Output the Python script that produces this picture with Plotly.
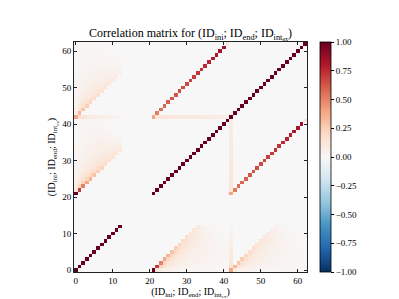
import plotly.graph_objects as go

# ---- axis categories / ticks -------------------------------------------
ids = list(range(63))                 # (ID_ini 0-20 ; ID_end 21-41 ; ID_intex 42-62)
tick_vals = [0, 10, 20, 30, 40, 50, 60]
cbar_vals = [1.0, 0.75, 0.5, 0.25, 0.0, -0.25, -0.5, -0.75, -1.0]
cbar_text = ["1.00", "0.75", "0.50", "0.25", "0.00", "\u22120.25", "\u22120.50", "\u22120.75", "\u22121.00"]

# ---- data ---------------------------------------------------------------
ini_active = 13   # ID_ini bins 0..12 carry variance; 13..20 are empty

# corr(ID_ini = i, ID_end = m); rows m = 0..20, columns i = 0..12
ini_end_rows = [
    [1.00],
    [0.12, 0.70],
    [0.08, 0.22, 0.50],
    [0.06, 0.13, 0.22, 0.40],
    [0.05, 0.09, 0.15, 0.22, 0.34],
    [0.04, 0.07, 0.11, 0.15, 0.21, 0.29],
    [0.03, 0.06, 0.08, 0.11, 0.15, 0.19, 0.25],
    [0.03, 0.05, 0.07, 0.09, 0.11, 0.14, 0.17, 0.22],
    [0.02, 0.04, 0.06, 0.07, 0.09, 0.11, 0.13, 0.15, 0.19],
    [0.02, 0.04, 0.05, 0.06, 0.07, 0.09, 0.10, 0.12, 0.14, 0.16],
    [0.02, 0.03, 0.04, 0.05, 0.06, 0.07, 0.08, 0.10, 0.11, 0.12, 0.14],
    [0.02, 0.03, 0.04, 0.05, 0.05, 0.06, 0.07, 0.08, 0.09, 0.10, 0.11, 0.12],
    [0.02, 0.03, 0.03, 0.04, 0.05, 0.05, 0.06, 0.07, 0.07, 0.08, 0.08, 0.09, 0.10],
    [0.02, 0.02, 0.03, 0.04, 0.04, 0.05, 0.05, 0.06, 0.06, 0.06, 0.06, 0.06, 0.06],
    [0.01, 0.02, 0.03, 0.03, 0.04, 0.04, 0.05, 0.05, 0.05, 0.05, 0.04, 0.04, 0.03],
    [0.01, 0.02, 0.02, 0.03, 0.03, 0.04, 0.04, 0.04, 0.04, 0.04, 0.03, 0.02, 0.02],
    [0.01, 0.02, 0.02, 0.03, 0.03, 0.03, 0.03, 0.03, 0.03, 0.03, 0.02, 0.01, 0.01],
    [0.01, 0.01, 0.02, 0.02, 0.03, 0.03, 0.03, 0.03, 0.02, 0.02, 0.01, 0.01, 0.01],
    [0.01, 0.01, 0.02, 0.02, 0.02, 0.02, 0.02, 0.02, 0.02, 0.01, 0.01, 0.01, 0.00],
    [0.01, 0.01, 0.01, 0.02, 0.02, 0.02, 0.02, 0.02, 0.01, 0.01, 0.01, 0.00, 0.00],
    [0.00, 0.01, 0.01, 0.01, 0.01, 0.01, 0.01, 0.01, 0.01, 0.01, 0.00, 0.00, 0.00],
]

# corr(ID_ini = i, ID_intex = m); rows m = 0..20, columns i = 0..12
ini_intex_rows = [
    [0.40, 0.16, 0.13, 0.11, 0.10, 0.09, 0.08, 0.07, 0.06, 0.05, 0.04, 0.03, 0.03],
    [0.08, 0.33],
    [0.05, 0.15, 0.28],
    [0.04, 0.10, 0.16, 0.25],
    [0.04, 0.07, 0.11, 0.15, 0.22],
    [0.03, 0.06, 0.08, 0.11, 0.14, 0.19],
    [0.03, 0.05, 0.07, 0.08, 0.10, 0.13, 0.17],
    [0.02, 0.04, 0.05, 0.07, 0.08, 0.10, 0.12, 0.15],
    [0.02, 0.04, 0.05, 0.06, 0.07, 0.08, 0.09, 0.11, 0.13],
    [0.02, 0.03, 0.04, 0.05, 0.06, 0.07, 0.08, 0.08, 0.10, 0.11],
    [0.02, 0.03, 0.04, 0.04, 0.05, 0.06, 0.06, 0.07, 0.08, 0.08, 0.09],
    [0.01, 0.03, 0.03, 0.04, 0.04, 0.05, 0.05, 0.06, 0.06, 0.06, 0.07, 0.07],
    [0.01, 0.02, 0.03, 0.03, 0.04, 0.04, 0.05, 0.05, 0.05, 0.05, 0.05, 0.05, 0.05],
    [0.01, 0.02, 0.03, 0.03, 0.03, 0.04, 0.04, 0.04, 0.04, 0.04, 0.04, 0.03, 0.03],
    [0.01, 0.02, 0.02, 0.03, 0.03, 0.03, 0.03, 0.03, 0.03, 0.03, 0.03, 0.02, 0.02],
    [0.01, 0.02, 0.02, 0.02, 0.03, 0.03, 0.03, 0.03, 0.03, 0.02, 0.02, 0.02, 0.01],
    [0.01, 0.01, 0.02, 0.02, 0.02, 0.02, 0.02, 0.02, 0.02, 0.02, 0.01, 0.01, 0.01],
    [0.01, 0.01, 0.02, 0.02, 0.02, 0.02, 0.02, 0.02, 0.02, 0.01, 0.01, 0.01, 0.01],
    [0.01, 0.01, 0.01, 0.02, 0.02, 0.02, 0.02, 0.01, 0.01, 0.01, 0.01, 0.01, 0.00],
    [0.01, 0.01, 0.01, 0.01, 0.01, 0.01, 0.01, 0.01, 0.01, 0.01, 0.01, 0.00, 0.00],
    [0.00, 0.01, 0.01, 0.01, 0.01, 0.01, 0.01, 0.01, 0.01, 0.01, 0.00, 0.00, 0.00],
]

# corr(ID_end = i, ID_intex = i), i = 0..20
end_intex_diag = [0.40, 0.52, 0.56, 0.58, 0.60, 0.62, 0.63, 0.65, 0.66, 0.67, 0.69,
                  0.70, 0.72, 0.73, 0.75, 0.77, 0.79, 0.81, 0.83, 0.86, 0.15]
# corr(ID_end = i, ID_intex = 0), i = 1..20
end_intex0 = [0.13, 0.12, 0.12, 0.12, 0.11, 0.11, 0.11, 0.11, 0.10, 0.10,
              0.10, 0.10, 0.09, 0.09, 0.09, 0.09, 0.08, 0.08, 0.08, 0.07]

# ---- assemble symmetric matrix -----------------------------------------
N = len(ids)
z = [[0.0] * N for _ in range(N)]


def put(r, c, v):
    z[r][c] = v
    z[c][r] = v


for k in range(ini_active):
    z[k][k] = 1.0
for k in range(21, N):
    z[k][k] = 1.0
for m, row in enumerate(ini_end_rows):
    for i, v in enumerate(row):
        put(21 + m, i, v)
for m, row in enumerate(ini_intex_rows):
    for i, v in enumerate(row):
        put(42 + m, i, v)
for i, v in enumerate(end_intex_diag):
    put(42 + i, 21 + i, v)
for i, v in enumerate(end_intex0, start=1):
    put(42, 21 + i, v)

rdbu_r = [
    [0.0, "#053061"], [0.1, "#2166ac"], [0.2, "#4393c3"], [0.3, "#92c5de"],
    [0.4, "#d1e5f0"], [0.5, "#f7f7f7"], [0.6, "#fddbc7"], [0.7, "#f4a582"],
    [0.8, "#d6604d"], [0.9, "#b2182b"], [1.0, "#67001f"],
]

lab = "(ID<sub>ini</sub>; ID<sub>end</sub>; ID<sub>int<sub>ex</sub></sub>)"

fig = go.Figure(go.Heatmap(
    z=z, x=ids, y=ids, zmin=-1, zmax=1, colorscale=rdbu_r,
    colorbar=dict(
        x=1.056, xanchor="left", y=0.5, yanchor="middle", len=1.0, lenmode="fraction",
        thickness=11, outlinewidth=0.8, outlinecolor="black",
        tickvals=cbar_vals, ticktext=cbar_text, ticks="outside", ticklen=3,
        tickwidth=0.8, tickcolor="black", tickfont=dict(size=9), xpad=0, ypad=0,
    ),
))

axis_common = dict(
    tickvals=tick_vals, ticks="inside", ticklen=3, tickwidth=0.8, tickcolor="#222",
    showline=True, linecolor="#222", linewidth=0.8, mirror="ticks",
    showgrid=False, zeroline=False, tickfont=dict(size=9),
)

fig.update_layout(
    width=399, height=299,
    margin=dict(l=66, r=100, t=34, b=32),
    paper_bgcolor="white", plot_bgcolor="#f7f7f7",
    font=dict(family="Liberation Serif", size=9, color="black"),
    title=dict(text="Correlation matrix for " + lab, x=0.5, xref="paper",
               y=1 - 25 / 299, yref="container", yanchor="middle",
               font=dict(size=12)),
    xaxis=dict(range=[-0.5, 62.5], title=dict(text=lab, font=dict(size=10), standoff=2), **axis_common),
    yaxis=dict(range=[-0.5, 62.5], title=dict(text=lab, font=dict(size=10), standoff=4), **axis_common),
)

fig.write_html("out.html")
